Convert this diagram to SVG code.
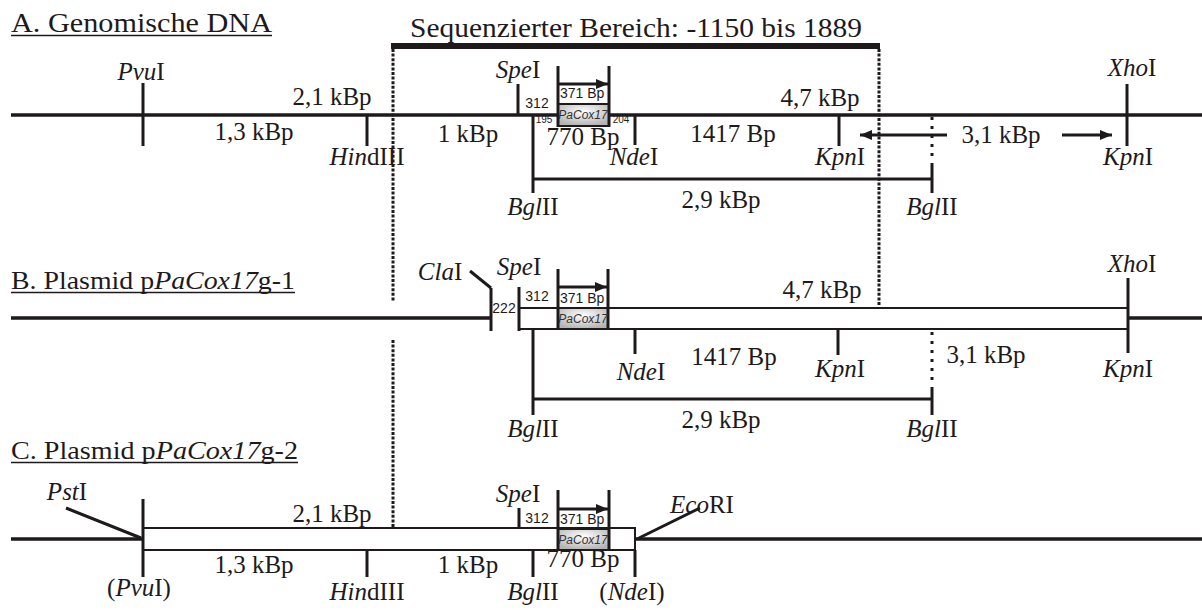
<svg xmlns="http://www.w3.org/2000/svg" width="1202" height="610" viewBox="0 0 1202 610">
<style>
.ln{stroke:#1e1a1b;stroke-width:3;fill:none}
.mn{stroke:#1e1a1b;stroke-width:3.5;fill:none}
.bx{stroke:#1e1a1b;stroke-width:2;fill:#fff}
.ul{stroke:#1e1a1b;stroke-width:1.5}
.dd{stroke:#1e1a1b;stroke-width:3;stroke-dasharray:3 1.6;fill:none}
.ds{stroke:#1e1a1b;stroke-width:3;stroke-dasharray:3 6;fill:none}
.t{font-family:"Liberation Serif","Times New Roman",serif;font-size:25px;fill:#1e1a1b;text-anchor:middle}
.h{font-family:"Liberation Serif","Times New Roman",serif;fill:#1e1a1b}
.s{font-family:"Liberation Sans",Arial,sans-serif;font-size:14px;fill:#1e1a1b}
.xs{font-family:"Liberation Sans",Arial,sans-serif;font-size:10px;fill:#1e1a1b;text-anchor:middle}
.g{font-family:"Liberation Sans",Arial,sans-serif;font-size:12px;font-style:italic;fill:#333;text-anchor:middle}
.i{font-style:italic}
.gene{fill:url(#gg);stroke:#1e1a1b;stroke-width:2}
</style>
<defs>
<radialGradient id="gg" cx="50%" cy="35%" r="65%">
<stop offset="0" stop-color="#ffffff"/>
<stop offset="1" stop-color="#b4b4b4"/>
</radialGradient>
<marker id="ah" markerUnits="userSpaceOnUse" viewBox="0 0 12 10" refX="12" refY="5" markerWidth="12" markerHeight="10" orient="auto">
<path d="M0,0 L12,5 L0,10 z" fill="#1e1a1b"/>
</marker>
</defs>

<!-- titles -->
<g id="titleA">
<text class="h" x="11" y="32" font-size="28" textLength="261" lengthAdjust="spacingAndGlyphs">A. Genomische DNA</text>
<line class="ul" x1="11" y1="35.5" x2="272" y2="35.5"/>
</g>
<g id="titleB">
<text class="h" x="11" y="289" font-size="26" textLength="284" lengthAdjust="spacingAndGlyphs">B. Plasmid p<tspan class="i">PaCox17</tspan>g-1</text>
<line class="ul" x1="11" y1="292.5" x2="295" y2="292.5"/>
</g>
<g id="titleC">
<text class="h" x="11" y="459" font-size="26" textLength="287" lengthAdjust="spacingAndGlyphs">C. Plasmid p<tspan class="i">PaCox17</tspan>g-2</text>
<line class="ul" x1="11" y1="462.5" x2="298" y2="462.5"/>
</g>

<g id="sequenced">
<rect x="391" y="43" width="489" height="6" fill="#1e1a1b"/>
<text class="h" x="410" y="37" font-size="27" textLength="452" lengthAdjust="spacingAndGlyphs">Sequenzierter Bereich: -1150 bis 1889</text>
</g>

<g id="connectors">
<!-- long dotted guide lines -->
<path class="dd" d="M393,49 V302 M393,340 V527 M879,49 V305"/>

<!-- Section A -->
<path class="mn" d="M11,115 H1202"/>
<path class="ln" d="M143,83 V146 M367,115 V146 M518,84 V115 M533,115 V193 M635,115 V145 M839,115 V146 M1127,84 V146 M533,179 H932 M932,163 V193"/>
<path class="ds" d="M932,117 V160"/>
<path class="ln" d="M947,135 H860" marker-end="url(#ah)"/>
<path class="ln" d="M1062,135 H1112" marker-end="url(#ah)"/>
<rect class="gene" x="558" y="104" width="51" height="22"/>
<path class="ln" d="M558,66 V127 M609,66 V127"/>
<path class="ln" d="M558,84 H608" marker-end="url(#ah)"/>

<!-- Section B -->
<path class="mn" d="M11,318 H491 M1128,318 H1202"/>
<rect class="bx" x="519" y="308" width="609" height="21"/>
<rect class="gene" x="558" y="308" width="50" height="21"/>
<path class="ln" d="M491,288 V331 M519,287 V331 M1128,278 V353 M558,269 V330 M608,269 V330 M635,330 V354 M838,330 V355 M533,330 V415 M533,399 H932 M932,387 V415"/>
<path class="ln" stroke-width="2" d="M470,271 L491,288"/>
<path class="ds" d="M932,332 V383"/>
<path class="ln" d="M558,287 H607" marker-end="url(#ah)"/>

<!-- Section C -->
<path class="mn" d="M11,539 H143 M635,539 H1202"/>
<rect class="bx" x="143" y="528" width="492" height="22"/>
<rect class="gene" x="558" y="529" width="51" height="21"/>
<path class="ln" d="M143,499 V577 M367,550 V577 M533,550 V577 M635,550 V577 M519,508 V528 M558,490 V550 M609,490 V550"/>
<path class="ln" stroke-width="2" d="M66,508 L141,538 M637,539 L700,508"/>
<path class="ln" d="M558,509 H608" marker-end="url(#ah)"/>
</g>

<!-- Section A labels -->
<g id="A-PvuI"><text class="t" x="141" y="80"><tspan class="i">Pvu</tspan>I</text></g>
<g id="A-HindIII"><text class="t" x="367" y="165"><tspan class="i">Hin</tspan>dIII</text></g>
<g id="A-SpeI"><text class="t" x="518" y="78"><tspan class="i">Spe</tspan>I</text></g>
<g id="A-BglII-1"><text class="t" x="533" y="215"><tspan class="i">Bgl</tspan>II</text></g>
<g id="A-NdeI"><text class="t" x="634" y="165"><tspan class="i">Nde</tspan>I</text></g>
<g id="A-KpnI-1"><text class="t" x="840" y="165"><tspan class="i">Kpn</tspan>I</text></g>
<g id="A-BglII-2"><text class="t" x="932" y="215"><tspan class="i">Bgl</tspan>II</text></g>
<g id="A-XhoI"><text class="t" x="1132" y="76"><tspan class="i">Xho</tspan>I</text></g>
<g id="A-KpnI-2"><text class="t" x="1128" y="165"><tspan class="i">Kpn</tspan>I</text></g>
<g id="A-sizes">
<text class="t" x="332" y="105">2,1 kBp</text>
<text class="t" x="254" y="140">1,3 kBp</text>
<text class="t" x="468" y="142">1 kBp</text>
<text class="t" x="733" y="142">1417 Bp</text>
<text class="t" x="820" y="106">4,7 kBp</text>
<text class="t" x="1001" y="143">3,1 kBp</text>
<text class="t" x="721" y="208">2,9 kBp</text>
<text class="t" x="583" y="145" font-size="18">770 Bp</text>
<text class="s" x="537" y="108" text-anchor="middle">312</text>
<text class="s" x="560" y="98">371 Bp</text>
<text class="g" x="583" y="119">PaCox17</text>
<text class="xs" x="544" y="123">195</text>
<text class="xs" x="621" y="123">204</text>
</g>

<!-- Section B labels -->
<g id="B-ClaI"><text class="t" x="440" y="280"><tspan class="i">Cla</tspan>I</text></g>
<g id="B-SpeI"><text class="t" x="519" y="275"><tspan class="i">Spe</tspan>I</text></g>
<g id="B-XhoI"><text class="t" x="1132" y="272"><tspan class="i">Xho</tspan>I</text></g>
<g id="B-NdeI"><text class="t" x="641" y="380"><tspan class="i">Nde</tspan>I</text></g>
<g id="B-KpnI-1"><text class="t" x="840" y="377"><tspan class="i">Kpn</tspan>I</text></g>
<g id="B-KpnI-2"><text class="t" x="1128" y="377"><tspan class="i">Kpn</tspan>I</text></g>
<g id="B-BglII-1"><text class="t" x="533" y="437"><tspan class="i">Bgl</tspan>II</text></g>
<g id="B-BglII-2"><text class="t" x="932" y="437"><tspan class="i">Bgl</tspan>II</text></g>
<g id="B-sizes">
<text class="t" x="822" y="298">4,7 kBp</text>
<text class="t" x="734" y="365">1417 Bp</text>
<text class="t" x="986" y="363">3,1 kBp</text>
<text class="t" x="721" y="428">2,9 kBp</text>
<text class="s" x="504" y="313" text-anchor="middle">222</text>
<text class="s" x="537" y="301" text-anchor="middle">312</text>
<text class="s" x="560" y="303">371 Bp</text>
<text class="g" x="583" y="323">PaCox17</text>
</g>

<!-- Section C labels -->
<g id="C-PstI"><text class="t" x="67" y="500"><tspan class="i">Pst</tspan>I</text></g>
<g id="C-SpeI"><text class="t" x="518" y="502"><tspan class="i">Spe</tspan>I</text></g>
<g id="C-EcoRI"><text class="t" x="702" y="513" text-anchor="start"><tspan class="i">Eco</tspan>RI</text></g>
<g id="C-PvuI"><text class="t" x="139" y="596">(<tspan class="i">Pvu</tspan>I)</text></g>
<g id="C-HindIII"><text class="t" x="367" y="600"><tspan class="i">Hin</tspan>dIII</text></g>
<g id="C-BglII"><text class="t" x="533" y="600"><tspan class="i">Bgl</tspan>II</text></g>
<g id="C-NdeI"><text class="t" x="632" y="600">(<tspan class="i">Nde</tspan>I)</text></g>
<g id="C-sizes">
<text class="t" x="332" y="522">2,1 kBp</text>
<text class="t" x="254" y="573">1,3 kBp</text>
<text class="t" x="468" y="573">1 kBp</text>
<text class="t" x="583" y="567" font-size="18">770 Bp</text>
<text class="s" x="537" y="523" text-anchor="middle">312</text>
<text class="s" x="560" y="524">371 Bp</text>
<text class="g" x="583" y="544">PaCox17</text>
</g>
</svg>
